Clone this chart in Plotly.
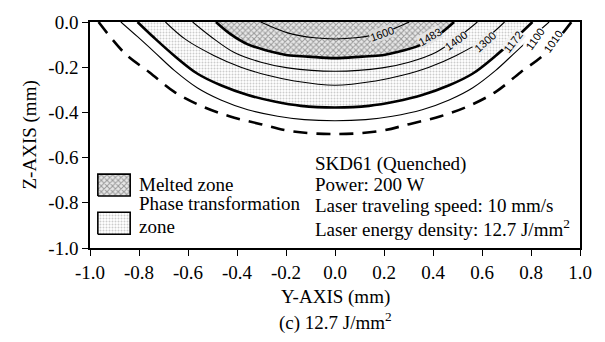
import plotly.graph_objects as go

# ---------------- data ----------------
# Isotherm temperatures and left-half coordinates (Y-axis mm, Z-axis mm); curves are symmetric about Y = 0
ISO_LABELS = ["1010", "1100", "1172", "1300", "1400", "1483", "1600"]

ISO_1010_Y = [-0.965, -0.855, -0.758, -0.656, -0.547, -0.431, -0.303, -0.181, 0.0]
ISO_1010_Z = [0.0, -0.142, -0.222, -0.309, -0.371, -0.417, -0.452, -0.483, -0.496]

ISO_1100_Y = [-0.874, -0.806, -0.738, -0.656, -0.561, -0.466, -0.356, -0.234, -0.125, 0.0]
ISO_1100_Z = [0.0, -0.065, -0.132, -0.214, -0.292, -0.345, -0.388, -0.417, -0.432, -0.437]

ISO_1172_Y = [-0.806, -0.738, -0.656, -0.561, -0.466, -0.356, -0.247, -0.139, 0.0]
ISO_1172_Z = [0.0, -0.070, -0.149, -0.229, -0.280, -0.323, -0.352, -0.371, -0.378]

ISO_1300_Y = [-0.692, -0.610, -0.493, -0.384, -0.275, -0.166, 0.0]
ISO_1300_Z = [0.0, -0.077, -0.149, -0.200, -0.236, -0.261, -0.280]

ISO_1400_Y = [-0.581, -0.506, -0.411, -0.302, -0.193, 0.0]
ISO_1400_Z = [0.0, -0.065, -0.135, -0.178, -0.203, -0.218]

ISO_1483_Y = [-0.486, -0.425, -0.356, -0.275, -0.193, -0.111, 0.0]
ISO_1483_Z = [0.0, -0.055, -0.099, -0.127, -0.147, -0.153, -0.160]

ISO_1600_Y = [-0.303, -0.193, -0.084, 0.0]
ISO_1600_Z = [0.0, -0.048, -0.070, -0.075]

# contour label positions (on the right-hand branch)
LABEL_Y = [0.889, 0.816, 0.726, 0.612, 0.493, 0.387, 0.190]
LABEL_Z = [-0.087, -0.074, -0.087, -0.088, -0.084, -0.067, -0.055]
LABEL_ANGLE = [-55, -55, -52, -42, -36, -30, -20]

X_TICKS = [-1.0, -0.8, -0.6, -0.4, -0.2, 0.0, 0.2, 0.4, 0.6, 0.8, 1.0]
X_TICK_LABELS = ["-1.0", "-0.8", "-0.6", "-0.4", "-0.2", "0.0", "0.2", "0.4", "0.6", "0.8", "1.0"]
Y_TICKS = [0.0, -0.2, -0.4, -0.6, -0.8, -1.0]
Y_TICK_LABELS = ["0.0", "-0.2", "-0.4", "-0.6", "-0.8", "-1.0"]

INFO_LINES = ["SKD61 (Quenched)", "Power: 200 W", "Laser traveling speed: 10 mm/s",
              "Laser energy density: 12.7 J/mm<sup>2</sup>"]
LEGEND_LINES = ["Melted zone", "Phase transformation", "zone"]

# ---------------- helpers ----------------
def mirror(ys, zs):
    fy = list(ys) + [-v for v in reversed(ys[:-1])]
    fz = list(zs) + list(reversed(zs[:-1]))
    return fy, fz

CURVES = {
    "1010": (ISO_1010_Y, ISO_1010_Z),
    "1100": (ISO_1100_Y, ISO_1100_Z),
    "1172": (ISO_1172_Y, ISO_1172_Z),
    "1300": (ISO_1300_Y, ISO_1300_Z),
    "1400": (ISO_1400_Y, ISO_1400_Z),
    "1483": (ISO_1483_Y, ISO_1483_Z),
    "1600": (ISO_1600_Y, ISO_1600_Z),
}
STYLE = {
    "1010": dict(width=2.6, dash="14px,9px"),
    "1100": dict(width=1.1),
    "1172": dict(width=2.6),
    "1300": dict(width=1.1),
    "1400": dict(width=1.1),
    "1483": dict(width=2.6),
    "1600": dict(width=1.1),
}

PHASE_PATTERN = dict(shape=".", fgcolor="#9a9a9a", bgcolor="#ffffff", size=3, solidity=0.35)
MELT_PATTERN = dict(shape="x", fgcolor="#4a4a4a", bgcolor="#e8e8e8", size=4, solidity=0.45)

fig = go.Figure()

# zone fills
py, pz = mirror(*CURVES["1172"])
fig.add_trace(go.Scatter(x=py, y=pz, mode="lines", line=dict(width=0, shape="spline"),
                         fill="toself", fillcolor="rgba(0,0,0,0)", fillpattern=PHASE_PATTERN,
                         hoverinfo="skip"))
my, mz = mirror(*CURVES["1483"])
fig.add_trace(go.Scatter(x=my, y=mz, mode="lines", line=dict(width=0, shape="spline"),
                         fill="toself", fillcolor="rgba(0,0,0,0)", fillpattern=MELT_PATTERN,
                         hoverinfo="skip"))

# isotherm lines
for name in ISO_LABELS:
    fy, fz = mirror(*CURVES[name])
    st = STYLE[name]
    fig.add_trace(go.Scatter(x=fy, y=fz, mode="lines",
                             line=dict(color="black", width=st["width"], dash=st.get("dash", "solid"),
                                       shape="spline", smoothing=1.0),
                             hoverinfo="skip"))

# isotherm labels
LABEL_BG = {"1010": "white", "1100": "white", "1172": "#f2f2f2", "1300": "#eeeeee",
            "1400": "#eeeeee", "1483": "#e4e4e4", "1600": "#d8d8d8"}
for name, ly, lz, ang in zip(ISO_LABELS, LABEL_Y, LABEL_Z, LABEL_ANGLE):
    fig.add_annotation(x=ly, y=lz, xref="x", yref="y", text=name, showarrow=False,
                       textangle=ang, font=dict(family="Liberation Sans", size=11, color="black"),
                       bgcolor=LABEL_BG[name], borderpad=0)

# legend swatches on an overlay axis (fractions of plot area)
SWATCH_X = [0.016, 0.082]
SWATCH_MELT_Y = [0.230, 0.327]
SWATCH_PHASE_Y = [0.061, 0.158]
for (y0, y1), pat in [(SWATCH_MELT_Y, MELT_PATTERN), (SWATCH_PHASE_Y, PHASE_PATTERN)]:
    x0, x1 = SWATCH_X
    fig.add_trace(go.Scatter(x=[x0, x1, x1, x0, x0], y=[y0, y0, y1, y1, y0], mode="lines",
                             line=dict(color="black", width=1.6), fill="toself",
                             fillcolor="rgba(0,0,0,0)", fillpattern=pat,
                             xaxis="x2", yaxis="y2", hoverinfo="skip"))

SERIF = "Liberation Serif"
TXT = dict(family=SERIF, size=19, color="black")

for text, yy in zip(LEGEND_LINES, [0.283, 0.196, 0.093]):
    fig.add_annotation(x=0.095, y=yy, xref="paper", yref="paper", text=text, showarrow=False,
                       xanchor="left", yanchor="middle", font=TXT)

for text, yy in zip(INFO_LINES, [0.372, 0.280, 0.186, 0.087]):
    fig.add_annotation(x=0.4545, y=yy, xref="paper", yref="paper", text=text, showarrow=False,
                       xanchor="left", yanchor="middle", font=TXT)

# axis titles & caption
fig.add_annotation(x=-0.15, y=0.5, xref="paper", yref="paper", text="Z-AXIS (mm)",
                   textangle=-90, showarrow=False, font=TXT)
fig.add_annotation(x=0.5, y=-0.217, xref="paper", yref="paper", text="Y-AXIS (mm)",
                   showarrow=False, yanchor="middle", font=TXT)
fig.add_annotation(x=0.5, y=-0.326, xref="paper", yref="paper", text="(c) 12.7 J/mm<sup>2</sup>",
                   showarrow=False, yanchor="middle", font=TXT)

axis_common = dict(showline=True, linecolor="black", linewidth=1.6, mirror=True,
                   ticks="outside", ticklen=6, tickwidth=1.4, tickcolor="black",
                   showgrid=False, zeroline=False, tickfont=TXT)

fig.update_layout(
    width=605, height=342,
    margin=dict(l=90, r=25, t=18, b=94),
    paper_bgcolor="white", plot_bgcolor="white",
    showlegend=False,
    xaxis=dict(range=[-1, 1], tickvals=X_TICKS, ticktext=X_TICK_LABELS, **axis_common),
    yaxis=dict(range=[-1, 0], tickvals=Y_TICKS, ticktext=Y_TICK_LABELS, **axis_common),
    xaxis2=dict(overlaying="x", range=[0, 1], visible=False),
    yaxis2=dict(overlaying="y", range=[0, 1], visible=False),
)

fig.write_html("out.html")
